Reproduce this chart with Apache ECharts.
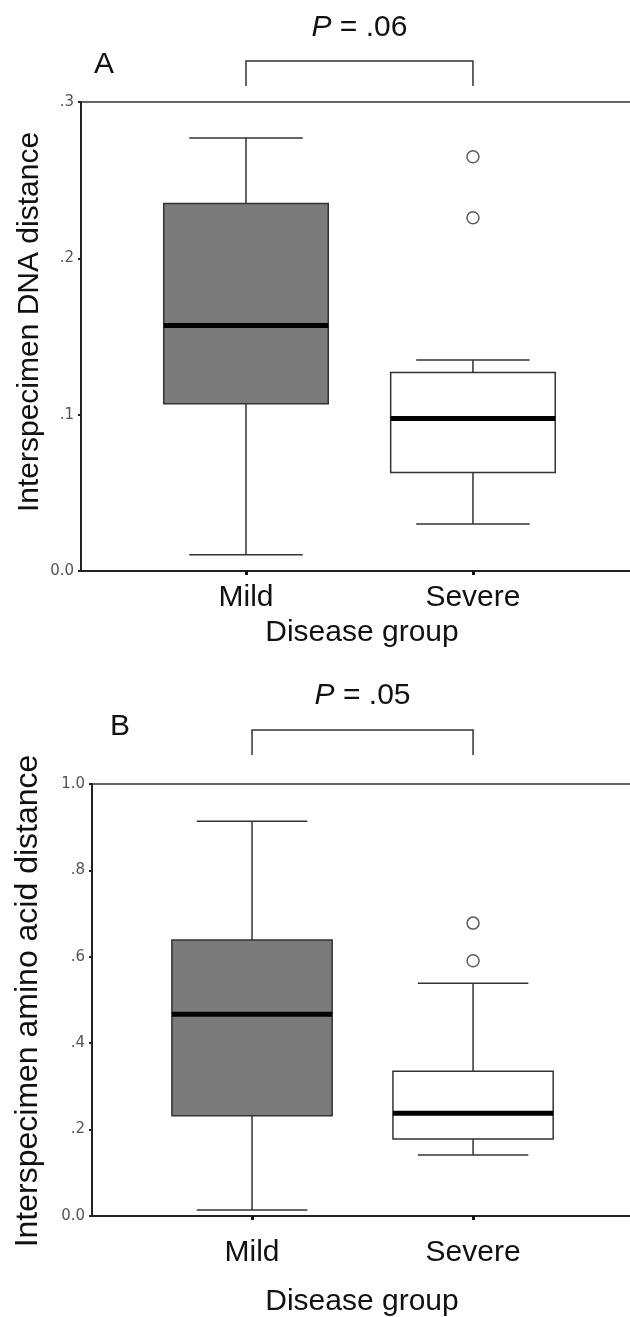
<!DOCTYPE html>
<html>
<head>
<meta charset="utf-8">
<script src="https://cdn.jsdelivr.net/npm/echarts@6/dist/echarts.min.js"></script>
<style>
html,body{margin:0;padding:0;background:#fff;}
#chart{width:630px;height:1317px;}
</style>
</head>
<body>
<div id="chart"></div>
<script>
// ---- data ----
const categories = ['Mild', 'Severe'];
// [low whisker, Q1, median, Q3, high whisker]
const boxA = [[0.0104, 0.107, 0.157, 0.235, 0.277], [0.030, 0.063, 0.0975, 0.127, 0.135]];
const outliersA = [[2, 0.265], [2, 0.226]];
const boxB = [[0.014, 0.232, 0.467, 0.639, 0.914], [0.141, 0.178, 0.238, 0.335, 0.539]];
const outliersB = [[2, 0.678], [2, 0.591]];
const yLabelsA = { '0': '0.0', '0.1': '.1', '0.2': '.2', '0.3': '.3' };
const yLabelsB = { '0': '0.0', '0.2': '.2', '0.4': '.4', '0.6': '.6', '0.8': '.8', '1': '1.0' };
const pValues = ['.06', '.05'];
const panelLetters = ['A', 'B'];
const yTitles = ['Interspecimen DNA distance', 'Interspecimen amino acid distance'];
const xTitle = 'Disease group';
const boxFills = ['#7b7b7b', '#ffffff'];

const BOX_W = 0.725, CAP_W = 0.5;
const font = '"Liberation Sans", Arial, sans-serif';

function toBoxData(arr) {
  return arr.map((d, i) => [i + 1].concat(d).concat([i]));
}

function renderBox(params, api) {
  const x = api.value(0);
  const low = api.coord([x, api.value(1)]);
  const q1 = api.coord([x, api.value(2)]);
  const med = api.coord([x, api.value(3)]);
  const q3 = api.coord([x, api.value(4)]);
  const high = api.coord([x, api.value(5)]);
  const fill = boxFills[api.value(6)];
  const bw = api.size([BOX_W, 0])[0];
  const cw = api.size([CAP_W, 0])[0];
  const cx = low[0];
  const wStyle = { stroke: '#333', lineWidth: 1.5 };
  return {
    type: 'group',
    children: [
      { type: 'line', shape: { x1: cx, y1: low[1], x2: cx, y2: q1[1] }, style: wStyle },
      { type: 'line', shape: { x1: cx, y1: q3[1], x2: cx, y2: high[1] }, style: wStyle },
      { type: 'line', shape: { x1: cx - cw / 2, y1: low[1], x2: cx + cw / 2, y2: low[1] }, style: wStyle },
      { type: 'line', shape: { x1: cx - cw / 2, y1: high[1], x2: cx + cw / 2, y2: high[1] }, style: wStyle },
      { type: 'rect', shape: { x: cx - bw / 2, y: q3[1], width: bw, height: q1[1] - q3[1] },
        style: { fill: fill, stroke: '#333', lineWidth: 1.5 } },
      { type: 'line', shape: { x1: cx - bw / 2, y1: med[1], x2: cx + bw / 2, y2: med[1] },
        style: { stroke: '#000', lineWidth: 5 } }
    ]
  };
}

const grids = [
  { left: 81, top: 102, width: 549, height: 469 },
  { left: 92, top: 784, width: 538, height: 432 }
];
const xRanges = [[0.273, 2.692], [0.276, 2.71]];
const yMax = [0.3, 1.0];
const yInt = [0.1, 0.2];
const yLabelMaps = [yLabelsA, yLabelsB];
const xLabelMargin = [12, 22];

const xAxes = [], yAxes = [];
[0, 1].forEach(g => {
  xAxes.push({
    type: 'value', gridIndex: g, min: xRanges[g][0], max: xRanges[g][1],
    axisLine: { show: true, onZero: false, lineStyle: { color: '#222', width: 2 } },
    axisTick: { show: true, customValues: [1, 2], length: 4, lineStyle: { color: '#111', width: 3 } },
    axisLabel: { customValues: [1, 2], formatter: v => categories[Math.round(v) - 1], fontSize: 30,
      fontFamily: font, color: '#111', margin: xLabelMargin[g] },
    splitLine: { show: false }
  });
  xAxes.push({
    type: 'value', gridIndex: g, position: 'top', min: xRanges[g][0], max: xRanges[g][1],
    axisLine: { show: true, onZero: false, lineStyle: { color: '#333', width: 1.5 } },
    axisTick: { show: false }, axisLabel: { show: false }, splitLine: { show: false }
  });
  yAxes.push({
    type: 'value', gridIndex: g, min: 0, max: yMax[g], interval: yInt[g],
    axisLine: { show: true, lineStyle: { color: '#222', width: 2 } },
    axisTick: { show: true, length: 3, lineStyle: { color: '#222', width: 2 } },
    axisLabel: { formatter: v => yLabelMaps[g][String(Math.round(v * 10) / 10)] || '',
      fontSize: 15, fontFamily: '"DejaVu Sans", sans-serif', color: '#555', margin: 7 },
    splitLine: { show: false }
  });
});

const chart = echarts.init(document.getElementById('chart'), null, { renderer: 'canvas' });
chart.setOption({
  animation: false,
  backgroundColor: '#fff',
  grid: grids,
  xAxis: xAxes,
  yAxis: yAxes,
  series: [
    { type: 'custom', xAxisIndex: 0, yAxisIndex: 0, data: toBoxData(boxA), renderItem: renderBox,
      encode: { x: 0, y: [1, 2, 3, 4, 5] }, clip: false },
    { type: 'scatter', xAxisIndex: 0, yAxisIndex: 0, data: outliersA, symbol: 'circle', symbolSize: 12,
      itemStyle: { color: '#fff', borderColor: '#333', borderWidth: 1.5 } },
    { type: 'custom', xAxisIndex: 2, yAxisIndex: 1, data: toBoxData(boxB), renderItem: renderBox,
      encode: { x: 0, y: [1, 2, 3, 4, 5] }, clip: false },
    { type: 'scatter', xAxisIndex: 2, yAxisIndex: 1, data: outliersB, symbol: 'circle', symbolSize: 12,
      itemStyle: { color: '#fff', borderColor: '#333', borderWidth: 1.5 } }
  ]
});

// annotations: brackets, p-values, panel letters, axis titles
const bracketY = [[61, 86], [730, 755]];
const pY = [28, 696];
const letterPos = [[104, 65], [120, 727]];
const yTitlePos = [[30, 322, 30], [28, 1001, 32]];
const xTitleY = [633, 1302];
const graphics = [];
[0, 1].forEach(g => {
  const p1 = chart.convertToPixel({ xAxisIndex: g * 2, yAxisIndex: g }, [1, 0]);
  const p2 = chart.convertToPixel({ xAxisIndex: g * 2, yAxisIndex: g }, [2, 0]);
  const [yt, yb] = bracketY[g];
  graphics.push({ type: 'polyline', shape: { points: [[p1[0], yb], [p1[0], yt], [p2[0], yt], [p2[0], yb]] },
    style: { stroke: '#333', lineWidth: 1.5, fill: null } });
  graphics.push({ type: 'text', x: (p1[0] + p2[0]) / 2, y: pY[g],
    style: { text: '{i|P} = ' + pValues[g], align: 'center', verticalAlign: 'middle',
      font: '30px ' + font, fill: '#111',
      rich: { i: { fontStyle: 'italic', fontSize: 30, fontFamily: font } } } });
  graphics.push({ type: 'text', x: letterPos[g][0], y: letterPos[g][1],
    style: { text: panelLetters[g], align: 'center', verticalAlign: 'middle', font: '30px ' + font, fill: '#111' } });
  graphics.push({ type: 'text', x: yTitlePos[g][0], y: yTitlePos[g][1], rotation: Math.PI / 2,
    style: { text: yTitles[g], align: 'center', verticalAlign: 'middle', font: yTitlePos[g][2] + 'px ' + font, fill: '#111' } });
  graphics.push({ type: 'text', x: 362, y: xTitleY[g],
    style: { text: xTitle, align: 'center', verticalAlign: 'middle', font: '30px ' + font, fill: '#111' } });
});
chart.setOption({ graphic: graphics });
</script>
</body>
</html>
